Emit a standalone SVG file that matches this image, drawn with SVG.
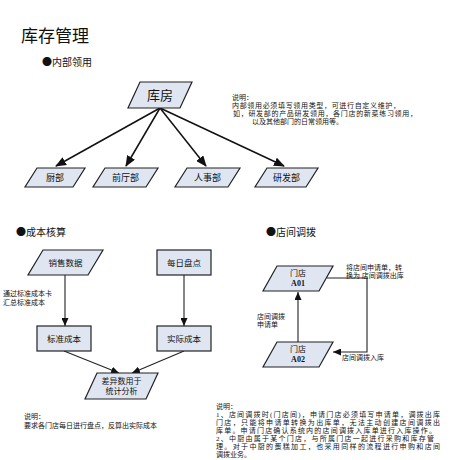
<svg xmlns="http://www.w3.org/2000/svg" width="462" height="460" viewBox="0 0 462 460">
<defs>
<style>
text{font-family:"Liberation Serif","Noto Sans CJK SC",serif;fill:#111}
.b{font-family:"Noto Sans CJK SC",sans-serif}
.n{fill:#dfe6f2;stroke:#222;stroke-width:1.2}
.c{stroke:#111;stroke-width:1.5;fill:none}
.c2{stroke:#222;stroke-width:1.1;fill:none}
.t{text-anchor:middle}
.s{font-size:7px}
</style>
<marker id="a1" markerUnits="userSpaceOnUse" markerWidth="11" markerHeight="9" refX="10" refY="4.5" orient="auto"><path d="M0,0 L11,4.5 L0,9 z" fill="#111"/></marker>
<marker id="a2" markerUnits="userSpaceOnUse" markerWidth="8" markerHeight="7" refX="8" refY="3.5" orient="auto"><path d="M0,0 L8,3.5 L0,7 z" fill="#111"/></marker>
</defs>
<rect width="462" height="460" fill="#fff"/>
<text x="21" y="42" font-size="17">库存管理</text>
<text x="42" y="66" font-size="10"><tspan class="b">●</tspan>内部领用</text>
<text x="16" y="236" font-size="10"><tspan class="b">●</tspan>成本核算</text>
<text x="266" y="236" font-size="10"><tspan class="b">●</tspan>店间调拨</text>

<g id="connectors">
<line class="c" x1="160" y1="108" x2="56" y2="166" marker-end="url(#a1)"/>
<line class="c" x1="160" y1="108" x2="126" y2="166" marker-end="url(#a1)"/>
<line class="c" x1="160" y1="108" x2="206" y2="166" marker-end="url(#a1)"/>
<line class="c" x1="160" y1="108" x2="284" y2="166" marker-end="url(#a1)"/>
<line class="c2" x1="65" y1="275" x2="65" y2="326" marker-end="url(#a2)"/>
<line class="c2" x1="184" y1="275" x2="184" y2="326" marker-end="url(#a2)"/>
<line class="c2" x1="64" y1="351" x2="119" y2="373" marker-end="url(#a2)"/>
<line class="c2" x1="184" y1="351" x2="132" y2="373" marker-end="url(#a2)"/>
<line class="c2" x1="298" y1="342" x2="298" y2="292" marker-end="url(#a2)"/>
<polyline class="c2" points="327,278 367,278 367,352 333,352" marker-end="url(#a2)"/>
</g>

<g id="kufang"><polygon class="n" points="140,82 192,82 180,108 128,108"/><text class="t" x="160" y="100" font-size="13">库房</text></g>
<g id="chubu"><polygon class="n" points="37,168 85,168 73,187 25,187"/><text class="t" x="55" y="181" font-size="9">厨部</text></g>
<g id="qiantingbu"><polygon class="n" points="105,168 158,168 146,187 93,187"/><text class="t" x="125.5" y="181" font-size="9">前厅部</text></g>
<g id="renshibu"><polygon class="n" points="187,168 240,168 228,187 175,187"/><text class="t" x="207.5" y="181" font-size="9">人事部</text></g>
<g id="yanfabu"><polygon class="n" points="267,168 318,168 306,187 255,187"/><text class="t" x="286.5" y="181" font-size="9">研发部</text></g>

<g id="note1">
<text class="s" x="232" y="100">说明：</text>
<text class="s" x="232" y="108" textLength="168">内部领用必须填写领用类型，可进行自定义维护，</text>
<text class="s" x="233" y="116" textLength="184">如，研发部的产品研发领用，各门店的新菜练习领用，</text>
<text class="s" x="252" y="124">以及其他部门的日常领用等。</text>
</g>

<g id="xiaoshou"><polygon class="n" points="43,250 103,250 88,275 28,275"/><text class="t" x="65.5" y="266" font-size="8.5">销售数据</text></g>
<g id="meiri"><rect class="n" x="157" y="250" width="54" height="25"/><text class="t" x="184" y="266" font-size="8.5">每日盘点</text></g>
<g id="biaozhun"><rect class="n" x="37" y="326" width="54" height="25"/><text class="t" x="64" y="342" font-size="8.5">标准成本</text></g>
<g id="shiji"><rect class="n" x="157" y="326" width="54" height="25"/><text class="t" x="184" y="342" font-size="8.5">实际成本</text></g>
<g id="chayi"><polygon class="n" points="97,373 158,373 146,399 85,399"/><text class="t" x="121.5" y="384" font-size="8">差异数用于</text><text class="t" x="121.5" y="394" font-size="8">统计分析</text></g>
<text class="s" x="3" y="296">通过标准成本卡</text>
<text class="s" x="3" y="305">汇总标准成本</text>
<g id="note2">
<text class="s" x="24" y="419">说明：</text>
<text class="s" x="24" y="428">要求各门店每日进行盘点，反算出实际成本</text>
</g>

<g id="a01"><polygon class="n" points="277,266 333,266 319,291 263,291"/><text class="t" x="298" y="276" font-size="8">门店</text><text class="t" x="298" y="286" font-size="8" font-weight="bold">A01</text></g>
<g id="a02"><polygon class="n" points="277,342 333,342 319,367 263,367"/><text class="t" x="298" y="352" font-size="8">门店</text><text class="t" x="298" y="362" font-size="8" font-weight="bold">A02</text></g>
<text class="s" x="257" y="319">店间调拨</text>
<text class="s" x="257" y="327">申请单</text>
<text class="s" x="346" y="270">将店间申请单，转</text>
<text class="s" x="346" y="278">换为 店间调拨出库</text>
<text class="s" x="342" y="360">店间调拨入库</text>

<g id="note3">
<text class="s" x="216" y="409">说明：</text>
<text class="s" x="216" y="417" textLength="224">1、店间调拨时(门店间)，申请门店必须填写申请单，调拨出库</text>
<text class="s" x="216" y="425" textLength="224">门店，只能将申请单转换为出库单，无法主动创建店间调拨出</text>
<text class="s" x="216" y="433" textLength="220">库单。申请门店确认系统内的店间调拨入库单进行入库操作。</text>
<text class="s" x="216" y="441" textLength="218">2、中厨由属于某个门店，与所属门店一起进行采购和库存管</text>
<text class="s" x="216" y="449" textLength="224">理。对于中厨的蛋糕加工，也采用同样的流程进行申购和店间</text>
<text class="s" x="216" y="457">调拨业务。</text>
</g>
</svg>
